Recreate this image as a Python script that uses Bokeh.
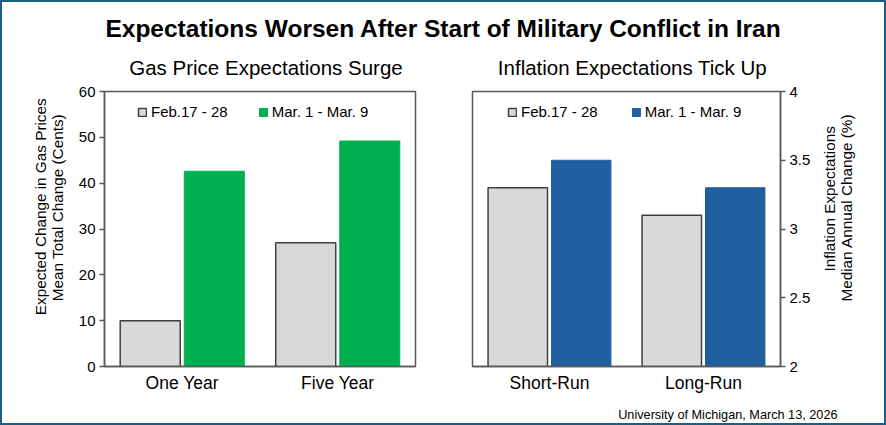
import math
from bokeh.plotting import figure
from bokeh.models import (Range1d, FactorRange, Label, Legend, LegendItem,
                          NumeralTickFormatter, FixedTicker, ColumnDataSource)
from bokeh.transform import dodge
from bokeh.layouts import column, row
from bokeh.embed import file_html
from bokeh.resources import INLINE

# ---------------- data ----------------
main_title = "Expectations Worsen After Start of Military Conflict in Iran"
gas_title = "Gas Price Expectations Surge"
infl_title = "Inflation Expectations Tick Up"
source_note = "University of Michigan, March 13, 2026"
series_names = ["Feb.17 - 28", "Mar. 1 - Mar. 9"]

gas_categories = ["One Year", "Five Year"]
gas_before = [10.0, 27.0]
gas_after = [42.6, 49.2]
gas_ticks = [0, 10, 20, 30, 40, 50, 60]
gas_axis_lines = ["Expected Change in Gas Prices", "Mean Total Change (Cents)"]

infl_categories = ["Short-Run", "Long-Run"]
infl_before = [3.3, 3.1]
infl_after = [3.5, 3.3]
infl_ticks = [2, 2.5, 3, 3.5, 4]
infl_axis_lines = ["Inflation Expectations", "Median Annual Change (%)"]

# ---------------- style ----------------
FONT = "Liberation Sans"
GRAY = "#d9d9d9"
GRAY_LINE = "#404040"
GREEN = "#00b050"
BLUE = "#2160a0"
FRAME = "#595959"
BORDER = "#1b5e86"


def text_strip(w, h):
    p = figure(width=w, height=h, x_range=Range1d(0, w), y_range=Range1d(h, 0),
               toolbar_location=None, output_backend="svg",
               x_axis_location=None, y_axis_location=None, min_border=0)
    p.grid.visible = False
    p.outline_line_color = None
    return p


def add_text(p, x, y, text, size, align="center", bold=False, angle=0.0,
             baseline="alphabetic"):
    p.add_layout(Label(x=x, y=y, text=text, text_align=align,
                       text_baseline=baseline, text_font=FONT,
                       text_font_style="bold" if bold else "normal",
                       text_font_size=size, text_color="black", angle=angle))


top = text_strip(882, 81)
add_text(top, 441, 26.3, main_title, "24.5px", bold=True)
add_text(top, 263.5, 65.3, gas_title, "20.5px")
add_text(top, 630, 65.3, infl_title, "20.5px")

bottom = text_strip(882, 25)
add_text(bottom, 835, 16.5, source_note, "12.7px", align="right")

# axis-title strips (rotated, reading bottom to top)
left_title = text_strip(68, 315)
add_text(left_title, 38, 132, gas_axis_lines[0], "15.3px",
         angle=math.pi / 2, baseline="middle")
add_text(left_title, 55, 133, gas_axis_lines[1], "15.3px",
         angle=math.pi / 2, baseline="middle")

right_title = text_strip(66, 315)
add_text(right_title, 11, 123, infl_axis_lines[0], "15.3px",
         angle=math.pi / 2, baseline="middle")
add_text(right_title, 28, 133, infl_axis_lines[1], "15.3px",
         angle=math.pi / 2, baseline="middle")


def panel(categories, before, after, yr, ticks, color, side, width,
          mb_left, mb_right, spacing, leg_x):
    p = figure(width=width, height=315, x_range=FactorRange(*categories),
               y_range=Range1d(*yr), toolbar_location=None, output_backend="svg",
               y_axis_location=side, min_border_left=mb_left,
               min_border_right=mb_right, min_border_top=8, min_border_bottom=32)
    p.grid.visible = False
    p.outline_line_color = FRAME
    p.outline_line_width = 1.5
    p.outline_line_alpha = 1.0
    src = ColumnDataSource(dict(cat=categories, before=before, after=after,
                                base=[yr[0]] * len(categories)))
    r1 = p.vbar(x=dodge("cat", -0.206, range=p.x_range), top="before",
                bottom="base", width=0.386, source=src, fill_color=GRAY,
                line_color=GRAY_LINE, line_width=1.5)
    r2 = p.vbar(x=dodge("cat", 0.206, range=p.x_range), top="after",
                bottom="base", width=0.386, source=src, fill_color=color,
                line_color=color, line_width=1)
    leg = Legend(items=[LegendItem(label=series_names[0], renderers=[r1]),
                        LegendItem(label=series_names[1], renderers=[r2])],
                 orientation="horizontal", location=(leg_x, 275 - 9 - 20),
                 glyph_width=10, glyph_height=10, label_standoff=4,
                 spacing=spacing, padding=0, margin=0, border_line_color=None,
                 background_fill_alpha=0, label_text_font=FONT,
                 label_text_font_size="15px", label_text_color="black")
    p.add_layout(leg)

    ya = p.yaxis[0]
    ya.ticker = FixedTicker(ticks=ticks)
    ya.formatter = NumeralTickFormatter(format="0.[0]")
    ya.major_label_text_font = FONT
    ya.major_label_text_font_size = "15px"
    ya.major_label_text_color = "black"
    ya.major_label_standoff = 4
    ya.major_tick_out = 5
    ya.major_tick_in = 0
    ya.minor_tick_out = 0
    ya.minor_tick_in = 0
    ya.axis_line_color = FRAME
    ya.axis_line_width = 1.5
    ya.major_tick_line_color = FRAME
    ya.major_tick_line_width = 1.5

    xa = p.xaxis[0]
    xa.major_label_text_font = FONT
    xa.major_label_text_font_size = "17.5px"
    xa.major_label_text_color = "black"
    xa.major_label_standoff = 6
    xa.major_tick_out = 0
    xa.major_tick_in = 0
    xa.axis_line_color = FRAME
    xa.axis_line_width = 1.5
    return p


left = panel(gas_categories, gas_before, gas_after, (0, 60), gas_ticks, GREEN,
             "left", 373, 34, 28, 30, 33)
right = panel(infl_categories, infl_before, infl_after, (2, 4), infl_ticks, BLUE,
              "right", 375, 29, 38, 33, 35)

layout = column(top, row(left_title, left, right, right_title), bottom,
                styles={"border": "2px solid " + BORDER})

open("out.html", "w").write(file_html(layout, INLINE))
